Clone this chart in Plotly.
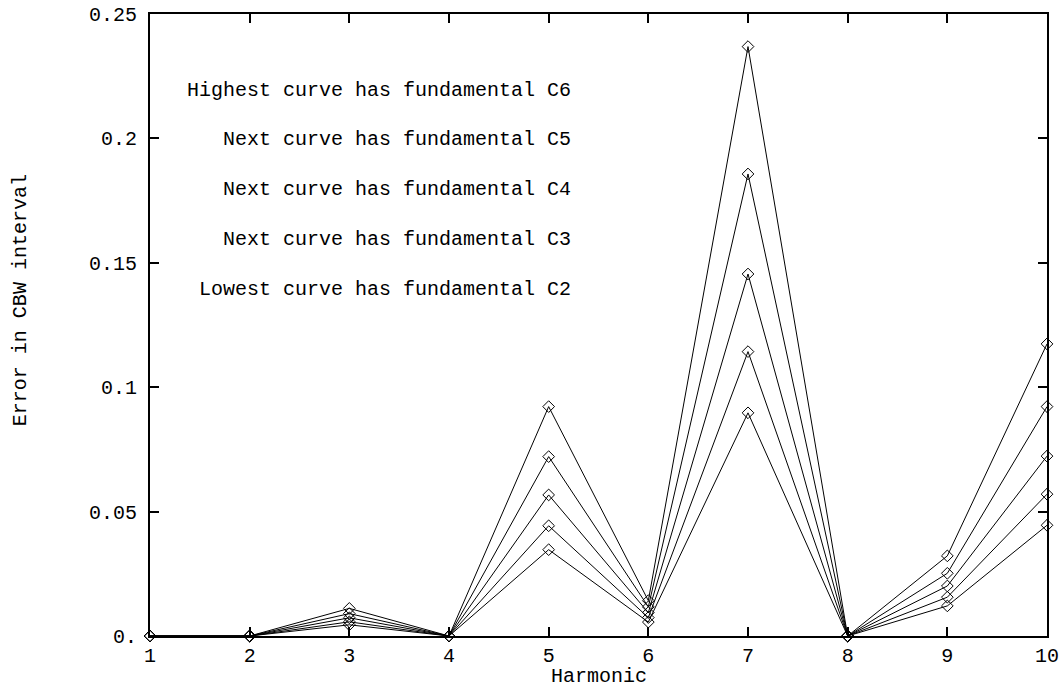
import plotly.graph_objects as go

harmonics = [1, 2, 3, 4, 5, 6, 7, 8, 9, 10]

err_c6 = [0, 0, 0.0111, 0, 0.0922, 0.0142, 0.2369, 0, 0.0322, 0.1174]
err_c5 = [0, 0, 0.0090, 0, 0.0721, 0.0117, 0.1857, 0, 0.0252, 0.0922]
err_c4 = [0, 0, 0.0073, 0, 0.0567, 0.0094, 0.1455, 0, 0.0201, 0.0723]
err_c3 = [0, 0, 0.0057, 0, 0.0443, 0.0074, 0.1143, 0, 0.0156, 0.0570]
err_c2 = [0, 0, 0.0045, 0, 0.0347, 0.0056, 0.0897, 0, 0.0121, 0.0445]

series = [err_c6, err_c5, err_c4, err_c3, err_c2]

notes = [
    "Highest curve has fundamental C6",
    "Next curve has fundamental C5",
    "Next curve has fundamental C4",
    "Next curve has fundamental C3",
    "Lowest curve has fundamental C2",
]
note_y = [0.2192, 0.1994, 0.1793, 0.1592, 0.1391]

y_tickvals = [0, 0.05, 0.1, 0.15, 0.2, 0.25]
y_ticktext = ["0.", "0.05", "0.1", "0.15", "0.2", "0.25"]

x_title = "Harmonic"
y_title = "Error in CBW interval"

FONT = "Liberation Mono, Courier New, monospace"

fig = go.Figure()
for s in series:
    fig.add_trace(go.Scatter(
        x=harmonics, y=s, mode="lines+markers",
        line=dict(color="black", width=1),
        marker=dict(symbol="diamond-open", size=9, color="black",
                    line=dict(width=1, color="black")),
        showlegend=False, cliponaxis=False,
    ))

for t, yv in zip(notes, note_y):
    fig.add_annotation(x=5.244, y=yv, xref="x", yref="y", text=t,
                       showarrow=False, xanchor="right", yanchor="middle",
                       font=dict(family=FONT, size=20, color="black"))

# axis titles
fig.add_annotation(x=0.5, y=-0.0645, xref="paper", yref="paper", text=x_title,
                   showarrow=False, xanchor="center", yanchor="middle",
                   font=dict(family=FONT, size=20, color="black"))
fig.add_annotation(x=-0.1449, y=0.54, xref="paper", yref="paper", text=y_title,
                   showarrow=False, xanchor="center", yanchor="middle", textangle=-90,
                   font=dict(family=FONT, size=20, color="black"))

fig.update_layout(
    width=1060, height=687,
    margin=dict(l=150, r=13, t=14, b=51),
    plot_bgcolor="white", paper_bgcolor="white",
    font=dict(family=FONT, size=20, color="black"),
    xaxis=dict(range=[1, 10], tickvals=harmonics, ticktext=[str(h) for h in harmonics],
               ticks="inside", ticklen=9, tickwidth=1.5, tickcolor="black",
               showline=True, linecolor="black", linewidth=2, mirror="allticks",
               showgrid=False, zeroline=False, automargin=False,
               ticklabelstandoff=0),
    yaxis=dict(range=[0, 0.25], tickvals=y_tickvals, ticktext=y_ticktext,
               ticks="inside", ticklen=9, tickwidth=1.5, tickcolor="black",
               showline=True, linecolor="black", linewidth=2, mirror="allticks",
               showgrid=False, zeroline=False, automargin=False,
               ticklabelstandoff=7),
)

# remove the browser's default 8px body margin so the figure sits at (0, 0)
fig.write_html("out.html",
               config={"displayModeBar": False},
               post_script="document.body.style.margin='0';document.body.style.overflow='hidden';")
